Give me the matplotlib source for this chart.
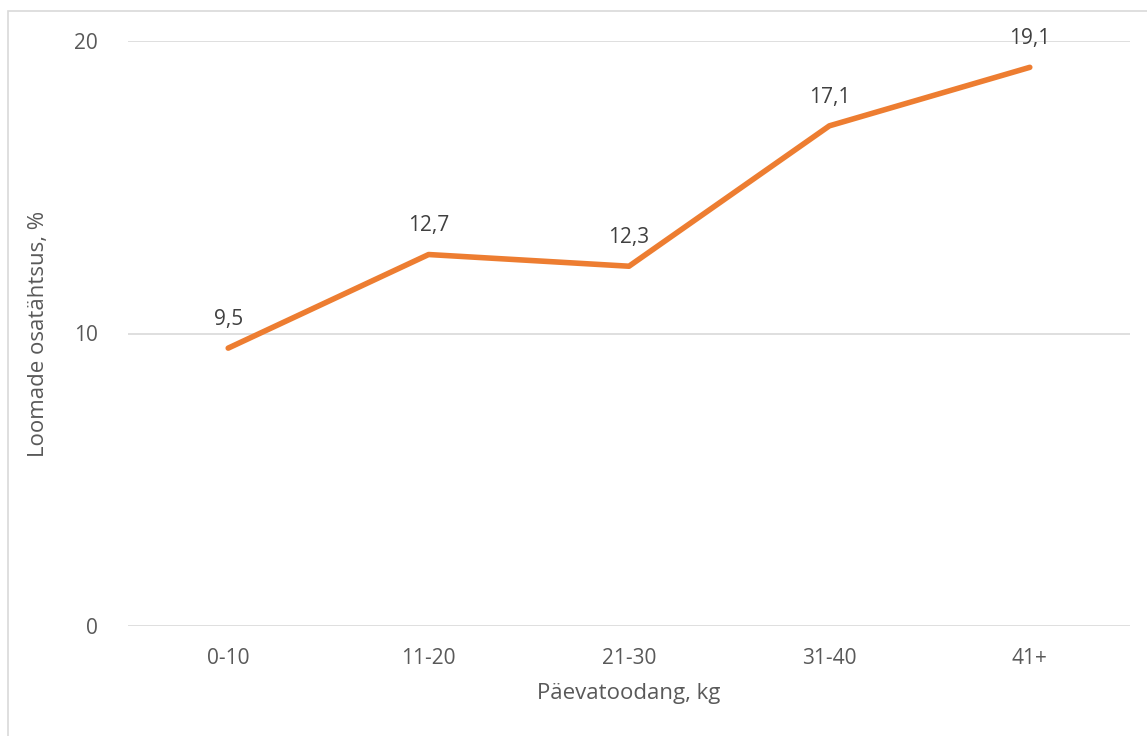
import matplotlib
matplotlib.use('Agg')
import matplotlib.pyplot as plt
from matplotlib.patches import Rectangle

plt.rcParams['font.family'] = ['Open Sans', 'DejaVu Sans']

kategooriad = ['0-10', '11-20', '21-30', '31-40', '41+']
osakaal = [9.5, 12.7, 12.3, 17.1, 19.1]
sildid = ['9,5', '12,7', '12,3', '17,1', '19,1']
y_ticks = [0, 10, 20]

W, H = 1147, 736
fig = plt.figure(figsize=(W / 100, H / 100), dpi=100)
ax = fig.add_axes([128 / W, 1 - 626 / H, (1130 - 128) / W, (626 - 41) / H])

# raam ümber joonise (parem ja alumine serv jäävad pildist välja)
fig.patches.append(Rectangle((8 / W, -0.1), 1.2, 1 - 11 / H + 0.1,
                             transform=fig.transFigure, fill=False,
                             edgecolor='#D9D9D9', linewidth=1.2))

x = list(range(len(kategooriad)))
ax.plot(x, osakaal, color='#ED7D31', linewidth=4, solid_capstyle='round', zorder=3)
for xi, yi, s in zip(x, osakaal, sildid):
    ax.annotate(s, (xi, yi), xytext=(0, 13), textcoords='offset points',
                ha='center', va='bottom', fontsize=15, color='#404040')

ax.set_xlim(-0.5, len(kategooriad) - 0.5)
ax.set_ylim(0, 20)
ax.set_yticks(y_ticks)
ax.set_xticks(x)
ax.set_xticklabels(kategooriad)
ax.grid(axis='y', color='#D9D9D9', linewidth=1.2)
ax.set_axisbelow(True)
for sp in ax.spines.values():
    sp.set_visible(False)
ax.tick_params(length=0, labelsize=15, colors='#595959', pad=16)
ax.tick_params(axis='y', pad=22)
ax.set_xlabel('Päevatoodang, kg', fontsize=16, color='#595959', labelpad=10)
ax.set_ylabel('Loomade osatähtsus, %', fontsize=16, color='#595959', labelpad=18)

fig.savefig('out.png', dpi=100)
